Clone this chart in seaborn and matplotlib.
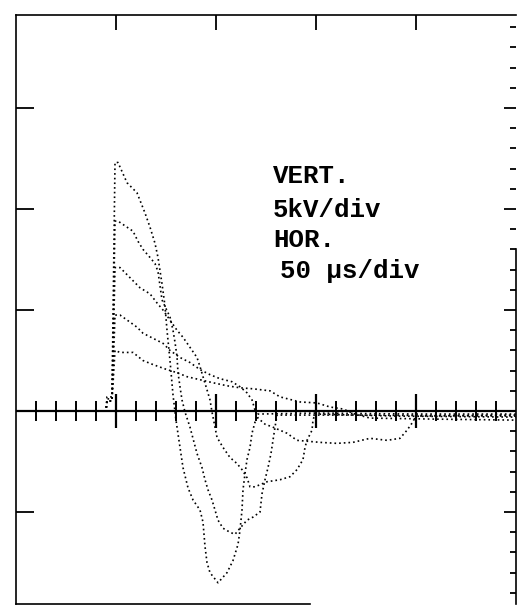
"""Oscilloscope record: five high-voltage pulse traces, 5 kV/div, 50 us/div."""
import numpy as np
import pandas as pd
import matplotlib
matplotlib.use("Agg")
import matplotlib.pyplot as plt
import seaborn as sns

# time in microseconds, voltage in kV
t1 = [0, 45, 45.5, 48, 49.5, 51, 55.5, 60.5, 64.5, 67, 69.5, 71, 73, 74.5, 75.5,
      77, 78.5, 80, 82, 83.5, 86, 88.5, 92, 93.5, 94.5, 95.5, 97, 101, 105.5,
      108.5, 111, 112, 113, 113.5, 114.5, 115.5, 117, 118, 119.5, 121, 150, 200, 250]
v1 = [0, 0, 0.7, 0.7, 12.3, 12.3, 11.3, 10.8, 9.8, 9.1, 8.3, 7.6, 6.3, 5.2, 4.0,
      2.5, 0.8, -0.45, -1.8, -2.8, -3.8, -4.4, -4.9, -5.5, -6.7, -7.5, -8.0, -8.5, -8.0,
      -7.4, -6.6, -5.9, -4.9, -3.9, -3.1, -2.4, -1.8, -1.1, -0.55, -0.15, -0.1, -0.15, -0.15]

t2 = [0, 45, 45.5, 48, 49.5, 51, 55.5, 58.5, 61, 63.5, 67, 69.5, 71, 73, 77, 78.5,
      79.5, 80.5, 81, 82, 83, 84.5, 87, 90.5, 93, 94.5, 96, 98, 99.5, 101, 103.5,
      107, 109.5, 112, 115.5, 118.5, 122, 123, 124.5, 126, 127.5, 128.5, 129.5,
      130.5, 170, 250]
v2 = [0, 0, 0.6, 0.6, 9.4, 9.4, 9.1, 8.9, 8.4, 8.0, 7.6, 7.3, 6.9, 5.5, 4.65, 4.0,
      3.4, 2.7, 1.9, 1.2, 0.55, -0.05, -0.8, -2.1, -2.8, -3.4, -3.9, -4.4, -4.9, -5.4, -5.8,
      -6.0, -6.1, -5.8, -5.4, -5.25, -5.0, -4.1, -3.4, -2.8, -2.1, -1.45, -0.8,
      -0.2, -0.2, -0.25]

t3 = [0, 45, 45.5, 48, 49.5, 52, 57, 62, 67, 70.5, 73.5, 77, 80.5, 83.5, 87, 90.5,
      92, 93.5, 95.5, 97, 98, 100.5, 103.5, 107, 110.5, 113, 115.5, 117, 119.5, 125.5,
      132, 137, 140.5, 143.5, 144.5, 145.5, 148, 148.5, 149.5, 190, 250]
v3 = [0, 0, 0.5, 0.5, 7.1, 7.1, 6.6, 6.1, 5.8, 5.35, 5.0, 4.5, 4.0, 3.65, 3.15, 2.65,
      2.2, 1.7, 1.05, 0.55, -0.05, -1.3, -1.8, -2.3, -2.6, -2.9, -3.3, -3.75, -3.75, -3.5,
      -3.4, -3.25, -2.9, -2.4, -1.8, -1.45, -0.95, -0.45, -0.15, -0.25, -0.3]

t4 = [0, 45, 45.5, 48, 49.5, 52, 57, 60.5, 63.5, 68.5, 73.5, 77, 82, 87, 92, 97,
      102, 108, 112, 115.5, 118, 119.5, 121, 124.5, 128.5, 132, 135.5, 140.5, 152,
      160.5, 168.5, 177, 185.5, 192, 195.5, 198, 200, 250]
v4 = [0, 0, 0.5, 0.5, 4.75, 4.75, 4.4, 4.15, 3.85, 3.6, 3.35, 3.0, 2.65, 2.4, 2.05, 1.8,
      1.6, 1.45, 1.2, 0.9, 0.55, 0.05, -0.35, -0.65, -0.8, -0.95, -1.1, -1.45, -1.55,
      -1.6, -1.55, -1.35, -1.45, -1.35, -0.95, -0.6, -0.25, -0.2]

t5 = [0, 45, 45.5, 48, 49.5, 52, 58.5, 63.5, 68.5, 75.5, 80.5, 85.5, 92, 98.5, 105.5,
      112, 118.5, 127, 132, 142, 150.5, 157, 163.5, 169.5, 177, 210, 250]
v5 = [0, 0, 0.5, 0.5, 3.0, 2.9, 2.9, 2.5, 2.3, 2.05, 1.9, 1.7, 1.55, 1.4, 1.25,
      1.15, 1.1, 1.0, 0.7, 0.45, 0.4, 0.2, 0.1, -0.15, -0.35, -0.4, -0.45]

label_lines = ["VERT.", "5kV/div", "HOR.", "50 \u00b5s/div"]

X_DIV = 50   # us per division
Y_DIV = 5    # kV per division

sns.set_theme(style="white")
plt.rcParams["font.family"] = ["Liberation Mono", "DejaVu Sans Mono"]

frames = []
for i, (t, v) in enumerate([(t1, v1), (t2, v2), (t3, v3), (t4, v4), (t5, v5)]):
    frames.append(pd.DataFrame({"t": t, "v": v, "trace": f"shot {i + 1}"}))
df = pd.concat(frames, ignore_index=True)

fig = plt.figure(figsize=(5.17, 6.11), dpi=100)
ax = fig.add_axes([16 / 517, 7 / 611, 500 / 517, 589 / 611])

sns.lineplot(data=df, x="t", y="v", hue="trace", palette=["black"] * 5,
             estimator=None, sort=False, legend=False, ax=ax,
             linestyle=(0, (1, 1.8)), linewidth=1.2)

ax.set_xlim(0, 5 * X_DIV)
ax.set_ylim(-9.55, 19.6)
ax.set_xlabel("")
ax.set_ylabel("")

# graticule: centre line with 0.2 div ticks
ax.axhline(0, color="black", lw=1.6, zorder=1)
minor_x = [x for x in np.arange(10, 250, 10) if x % X_DIV]
major_x = np.arange(X_DIV, 250, X_DIV)
ax.vlines(minor_x, -0.5, 0.5, color="black", lw=1.4)
ax.vlines(major_x, -0.85, 0.85, color="black", lw=1.6)

for side in ["top", "left", "right", "bottom"]:
    ax.spines[side].set_color("black")
    ax.spines[side].set_linewidth(1.2)
ax.spines["bottom"].set_bounds(0, 147)
ax.spines["right"].set_bounds(-9.55, 8)

ax.set_xticks(major_x)
ax.set_yticks([-5, 5, 10, 15])
ax.tick_params(axis="x", top=True, bottom=False, direction="in", length=11,
               width=1.3, labeltop=False, labelbottom=False, color="black")
ax.tick_params(axis="y", left=True, right=False, direction="in", length=13,
               width=1.3, labelleft=False, color="black")

ax2 = ax.twinx()
ax2.set_ylim(ax.get_ylim())
ax2.set_yticks(np.arange(-5, 20, 5))
ax2.set_yticks(np.arange(-9, 20, 1), minor=True)
ax2.tick_params(axis="y", which="major", direction="in", length=9, width=1.3,
                labelright=False, color="black")
ax2.tick_params(axis="y", which="minor", direction="in", length=4, width=1.3,
                color="black")
for side in ax2.spines:
    ax2.spines[side].set_visible(False)

for line, x, y in zip(label_lines, [128.5, 128.5, 128.5, 132], [11.3, 9.6, 8.1, 6.6]):
    ax.text(x, y, line, fontsize=18.5, fontweight="bold", color="black",
            ha="left", va="baseline")

fig.savefig("out.png", dpi=100, facecolor="white")
